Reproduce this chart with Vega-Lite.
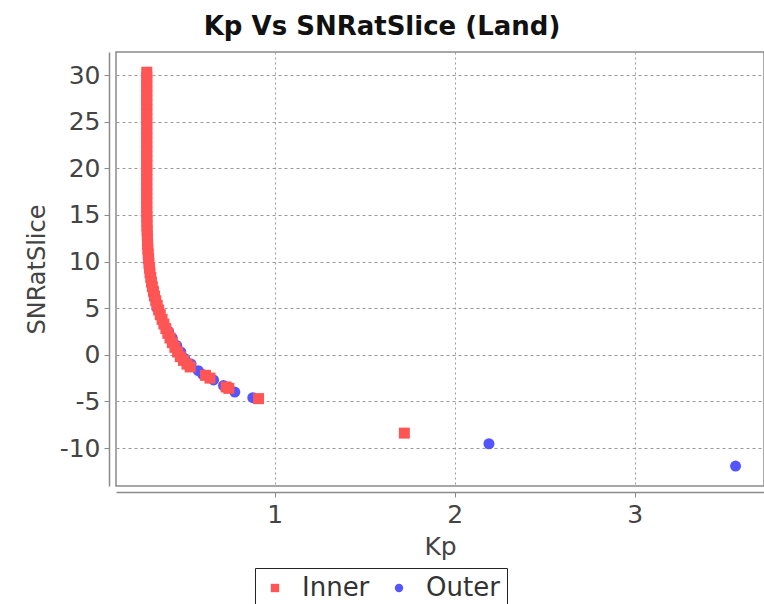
{
  "$schema": "https://vega.github.io/schema/vega-lite/v6.json",
  "width": 648,
  "height": 434,
  "autosize": {"type": "none"},
  "padding": {"left": 116, "top": 52, "right": 0, "bottom": 118},
  "background": "white",
  "title": {
    "text": "Kp Vs SNRatSlice (Land)",
    "font": "DejaVu Sans",
    "fontSize": 26,
    "fontWeight": "bold",
    "color": "#111111",
    "anchor": "middle",
    "frame": "group",
    "dx": -58,
    "offset": 12
  },
  "config": {
    "view": {"stroke": "#8a8a8a", "strokeWidth": 1.5},
    "axis": {
      "labelFont": "DejaVu Sans",
      "titleFont": "DejaVu Sans",
      "labelColor": "#444444",
      "titleColor": "#444444",
      "titleFontWeight": "normal",
      "domainColor": "#8a8a8a",
      "domainWidth": 1.5,
      "tickColor": "#8a8a8a",
      "gridColor": "#9a9a9a",
      "gridWidth": 1
    }
  },
  "data": {
    "values": [
      {"Kp": 0.345, "SNRatSlice": 5.0, "series": "Outer"},
      {"Kp": 0.385, "SNRatSlice": 3.2, "series": "Outer"},
      {"Kp": 0.410, "SNRatSlice": 2.5, "series": "Outer"},
      {"Kp": 0.430, "SNRatSlice": 1.8, "series": "Outer"},
      {"Kp": 0.455, "SNRatSlice": 1.0, "series": "Outer"},
      {"Kp": 0.478, "SNRatSlice": 0.3, "series": "Outer"},
      {"Kp": 0.500, "SNRatSlice": -0.4, "series": "Outer"},
      {"Kp": 0.535, "SNRatSlice": -1.0, "series": "Outer"},
      {"Kp": 0.575, "SNRatSlice": -1.7, "series": "Outer"},
      {"Kp": 0.600, "SNRatSlice": -2.1, "series": "Outer"},
      {"Kp": 0.660, "SNRatSlice": -2.7, "series": "Outer"},
      {"Kp": 0.715, "SNRatSlice": -3.3, "series": "Outer"},
      {"Kp": 0.778, "SNRatSlice": -4.0, "series": "Outer"},
      {"Kp": 0.878, "SNRatSlice": -4.6, "series": "Outer"},
      {"Kp": 2.19, "SNRatSlice": -9.54, "series": "Outer"},
      {"Kp": 3.56, "SNRatSlice": -11.93, "series": "Outer"},
      {"Kp": 0.289, "SNRatSlice": 30.3, "series": "Inner"},
      {"Kp": 0.289, "SNRatSlice": 29.8, "series": "Inner"},
      {"Kp": 0.289, "SNRatSlice": 29.3, "series": "Inner"},
      {"Kp": 0.289, "SNRatSlice": 28.8, "series": "Inner"},
      {"Kp": 0.289, "SNRatSlice": 28.3, "series": "Inner"},
      {"Kp": 0.289, "SNRatSlice": 27.8, "series": "Inner"},
      {"Kp": 0.289, "SNRatSlice": 27.3, "series": "Inner"},
      {"Kp": 0.289, "SNRatSlice": 26.8, "series": "Inner"},
      {"Kp": 0.289, "SNRatSlice": 26.3, "series": "Inner"},
      {"Kp": 0.289, "SNRatSlice": 25.8, "series": "Inner"},
      {"Kp": 0.289, "SNRatSlice": 25.3, "series": "Inner"},
      {"Kp": 0.289, "SNRatSlice": 24.8, "series": "Inner"},
      {"Kp": 0.289, "SNRatSlice": 24.3, "series": "Inner"},
      {"Kp": 0.289, "SNRatSlice": 23.8, "series": "Inner"},
      {"Kp": 0.289, "SNRatSlice": 23.3, "series": "Inner"},
      {"Kp": 0.289, "SNRatSlice": 22.8, "series": "Inner"},
      {"Kp": 0.289, "SNRatSlice": 22.3, "series": "Inner"},
      {"Kp": 0.289, "SNRatSlice": 21.8, "series": "Inner"},
      {"Kp": 0.289, "SNRatSlice": 21.3, "series": "Inner"},
      {"Kp": 0.289, "SNRatSlice": 20.8, "series": "Inner"},
      {"Kp": 0.289, "SNRatSlice": 20.3, "series": "Inner"},
      {"Kp": 0.289, "SNRatSlice": 19.8, "series": "Inner"},
      {"Kp": 0.289, "SNRatSlice": 19.3, "series": "Inner"},
      {"Kp": 0.289, "SNRatSlice": 18.8, "series": "Inner"},
      {"Kp": 0.289, "SNRatSlice": 18.3, "series": "Inner"},
      {"Kp": 0.289, "SNRatSlice": 17.8, "series": "Inner"},
      {"Kp": 0.289, "SNRatSlice": 17.3, "series": "Inner"},
      {"Kp": 0.289, "SNRatSlice": 16.8, "series": "Inner"},
      {"Kp": 0.289, "SNRatSlice": 16.3, "series": "Inner"},
      {"Kp": 0.289, "SNRatSlice": 15.8, "series": "Inner"},
      {"Kp": 0.289, "SNRatSlice": 15.3, "series": "Inner"},
      {"Kp": 0.290, "SNRatSlice": 14.8, "series": "Inner"},
      {"Kp": 0.290, "SNRatSlice": 14.3, "series": "Inner"},
      {"Kp": 0.290, "SNRatSlice": 13.8, "series": "Inner"},
      {"Kp": 0.291, "SNRatSlice": 13.3, "series": "Inner"},
      {"Kp": 0.292, "SNRatSlice": 12.8, "series": "Inner"},
      {"Kp": 0.293, "SNRatSlice": 12.3, "series": "Inner"},
      {"Kp": 0.294, "SNRatSlice": 11.8, "series": "Inner"},
      {"Kp": 0.295, "SNRatSlice": 11.3, "series": "Inner"},
      {"Kp": 0.297, "SNRatSlice": 10.8, "series": "Inner"},
      {"Kp": 0.299, "SNRatSlice": 10.3, "series": "Inner"},
      {"Kp": 0.301, "SNRatSlice": 9.8, "series": "Inner"},
      {"Kp": 0.304, "SNRatSlice": 9.3, "series": "Inner"},
      {"Kp": 0.307, "SNRatSlice": 8.8, "series": "Inner"},
      {"Kp": 0.311, "SNRatSlice": 8.3, "series": "Inner"},
      {"Kp": 0.315, "SNRatSlice": 7.8, "series": "Inner"},
      {"Kp": 0.320, "SNRatSlice": 7.3, "series": "Inner"},
      {"Kp": 0.326, "SNRatSlice": 6.8, "series": "Inner"},
      {"Kp": 0.332, "SNRatSlice": 6.3, "series": "Inner"},
      {"Kp": 0.339, "SNRatSlice": 5.8, "series": "Inner"},
      {"Kp": 0.347, "SNRatSlice": 5.3, "series": "Inner"},
      {"Kp": 0.355, "SNRatSlice": 4.8, "series": "Inner"},
      {"Kp": 0.364, "SNRatSlice": 4.3, "series": "Inner"},
      {"Kp": 0.374, "SNRatSlice": 3.8, "series": "Inner"},
      {"Kp": 0.384, "SNRatSlice": 3.3, "series": "Inner"},
      {"Kp": 0.395, "SNRatSlice": 2.8, "series": "Inner"},
      {"Kp": 0.406, "SNRatSlice": 2.3, "series": "Inner"},
      {"Kp": 0.418, "SNRatSlice": 1.8, "series": "Inner"},
      {"Kp": 0.431, "SNRatSlice": 1.3, "series": "Inner"},
      {"Kp": 0.445, "SNRatSlice": 0.8, "series": "Inner"},
      {"Kp": 0.460, "SNRatSlice": 0.3, "series": "Inner"},
      {"Kp": 0.475, "SNRatSlice": -0.2, "series": "Inner"},
      {"Kp": 0.493, "SNRatSlice": -0.6, "series": "Inner"},
      {"Kp": 0.512, "SNRatSlice": -1.0, "series": "Inner"},
      {"Kp": 0.530, "SNRatSlice": -1.3, "series": "Inner"},
      {"Kp": 0.615, "SNRatSlice": -2.2, "series": "Inner"},
      {"Kp": 0.640, "SNRatSlice": -2.5, "series": "Inner"},
      {"Kp": 0.730, "SNRatSlice": -3.45, "series": "Inner"},
      {"Kp": 0.745, "SNRatSlice": -3.6, "series": "Inner"},
      {"Kp": 0.910, "SNRatSlice": -4.7, "series": "Inner"},
      {"Kp": 1.72, "SNRatSlice": -8.4, "series": "Inner"}
    ]
  },
  "mark": {"type": "point", "filled": true, "opacity": 1, "size": 121},
  "encoding": {
    "x": {
      "field": "Kp",
      "type": "quantitative",
      "title": "Kp",
      "scale": {"domain": [0.118, 3.718], "nice": false, "zero": false},
      "axis": {
        "values": [1, 2, 3],
        "labelExpr": "'' + datum.value",
        "offset": 6,
        "tickSize": 5,
        "labelFontSize": 25,
        "labelPadding": 5,
        "titleFontSize": 25,
        "titlePadding": 7,
        "gridDash": [2, 3]
      }
    },
    "y": {
      "field": "SNRatSlice",
      "type": "quantitative",
      "title": "SNRatSlice",
      "scale": {"domain": [-14.07, 32.47], "nice": false, "zero": false},
      "axis": {
        "values": [-10, -5, 0, 5, 10, 15, 20, 25, 30],
        "labelExpr": "'' + datum.value",
        "offset": 7,
        "tickSize": 5,
        "labelFontSize": 25,
        "labelPadding": 4,
        "titleFontSize": 24,
        "titlePadding": 10,
        "gridDash": [3, 3]
      }
    },
    "color": {
      "field": "series",
      "type": "nominal",
      "scale": {"domain": ["Inner", "Outer"], "range": ["#FF5555", "#5555FF"]},
      "legend": {
        "title": null,
        "orient": "none",
        "legendX": 139,
        "legendY": 516,
        "direction": "horizontal",
        "strokeColor": "#222222",
        "padding": 7,
        "labelFont": "DejaVu Sans",
        "labelFontSize": 26,
        "labelColor": "#333333",
        "symbolSize": 70,
        "symbolStrokeWidth": 0,
        "labelOffset": 14,
        "columnPadding": 16
      }
    },
    "shape": {
      "field": "series",
      "type": "nominal",
      "scale": {"domain": ["Inner", "Outer"], "range": ["square", "circle"]}
    }
  }
}
